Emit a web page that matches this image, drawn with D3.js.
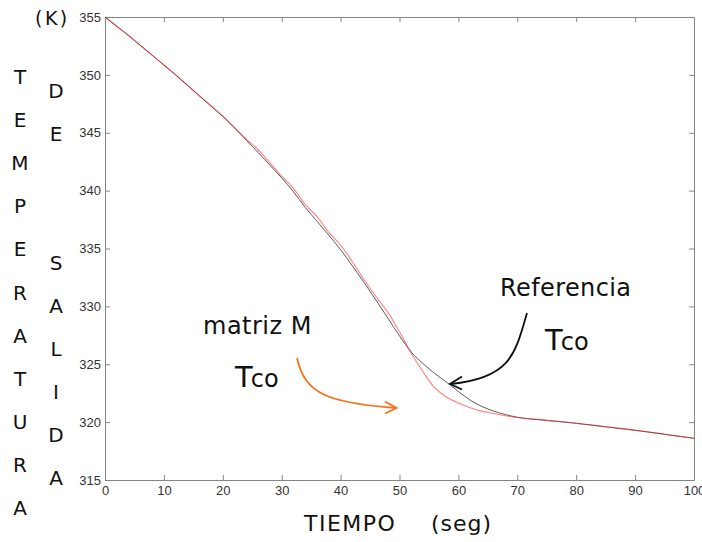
<!DOCTYPE html>
<html>
<head>
<meta charset="utf-8">
<script src="https://cdn.jsdelivr.net/npm/d3@7"></script>
<style>
  body { margin: 0; background: #fff; }
  svg { display: block; }
  .tick text { font-family: "Liberation Sans", Arial, sans-serif; font-size: 13px; fill: #333; }
  .lbl { font-family: "DejaVu Sans", Verdana, sans-serif; fill: #111; }
</style>
</head>
<body>
<div id="chartArea"></div>
<script>
// data
var tiempo = [0, 2, 4, 6, 8, 10, 12, 14, 16, 18, 20, 22, 24, 26, 28, 30, 32, 34, 36, 38, 40,
    42, 44, 46, 48, 50, 52, 54, 56, 58, 60, 62, 64, 66, 68, 70, 75, 80, 85, 90, 95, 100];
var tempReferencia = [355.0, 354.2, 353.4, 352.55, 351.7, 350.85, 350.0, 349.1, 348.2, 347.3, 346.4,
    345.4, 344.35, 343.3, 342.2, 341.1, 339.9, 338.55, 337.35, 336.15, 334.9,
    333.5, 332.05, 330.55, 329.0, 327.45, 326.05, 325.05, 324.2, 323.45, 322.65,
    321.9, 321.35, 320.95, 320.65, 320.42, 320.15, 319.9, 319.6, 319.3, 318.95, 318.6];
var tempMatrizM = [355.0, 354.2, 353.4, 352.55, 351.7, 350.85, 350.0, 349.1, 348.2, 347.35, 346.45,
    345.45, 344.45, 343.55, 342.4, 341.25, 340.2, 338.8, 337.75, 336.4, 335.3,
    333.85, 332.3, 330.85, 329.5, 327.8, 325.95, 324.35, 322.95, 322.15, 321.65,
    321.25, 320.95, 320.75, 320.55, 320.4, 320.15, 319.9, 319.6, 319.3, 318.95, 318.6];
var xTicks = [0, 10, 20, 30, 40, 50, 60, 70, 80, 90, 100];
var yTicks = [315, 320, 325, 330, 335, 340, 345, 350, 355];
var letrasTemp = ["T", "E", "M", "P", "E", "R", "A", "T", "U", "R", "A"];
var letrasSalida = ["D", "E", "", "", "S", "A", "L", "I", "D", "A"];

// layout
const width = 702, height = 542;
const plot = { left: 105, right: 694, top: 17, bottom: 480 };

var svg = d3.select("#chartArea").append("svg")
    .attr("width", width)
    .attr("height", height);

svg.append("rect").attr("width", width).attr("height", height).attr("fill", "#fff");

var xScale = d3.scaleLinear().domain([0, 100]).range([plot.left, plot.right]);
var yScale = d3.scaleLinear().domain([315, 355]).range([plot.bottom, plot.top]);

function styleAxis(g) {
    g.selectAll(".domain").attr("stroke", "#858585");
    g.selectAll(".tick line").attr("stroke", "#858585");
}

// axes (matlab box, ticks inward on every side)
svg.append("g")
    .attr("transform", "translate(0," + plot.bottom + ")")
    .call(d3.axisBottom(xScale).tickValues(xTicks).tickSizeInner(-5).tickSizeOuter(0).tickPadding(6))
    .call(styleAxis);

svg.append("g")
    .attr("transform", "translate(0," + plot.top + ")")
    .call(d3.axisTop(xScale).tickValues(xTicks).tickSizeInner(-5).tickSizeOuter(0).tickFormat(""))
    .call(styleAxis);

svg.append("g")
    .attr("transform", "translate(" + plot.left + ",0)")
    .call(d3.axisLeft(yScale).tickValues(yTicks).tickSizeInner(-5).tickSizeOuter(0).tickPadding(4))
    .call(styleAxis);

svg.append("g")
    .attr("transform", "translate(" + plot.right + ",0)")
    .call(d3.axisRight(yScale).tickValues(yTicks).tickSizeInner(-5).tickSizeOuter(0).tickFormat(""))
    .call(styleAxis);

// curves
var line = d3.line()
    .x(function (d, i) { return xScale(tiempo[i]); })
    .y(function (d) { return yScale(d); })
    .curve(d3.curveMonotoneX);

svg.append("path")
    .attr("d", line(tempReferencia))
    .attr("fill", "none")
    .attr("stroke", "#5c5c5c")
    .attr("stroke-width", 1);

svg.append("path")
    .attr("d", line.curve(d3.curveCatmullRom)(tempMatrizM))
    .attr("fill", "none")
    .attr("stroke", "#ff1a1a")
    .attr("stroke-opacity", 0.55)
    .attr("stroke-width", 1.1);

// y label, written as stacked letters
svg.append("text").attr("class", "lbl")
    .attr("x", 35).attr("y", 25)
    .attr("font-size", 19).attr("letter-spacing", 2.5)
    .text("(K)");

svg.selectAll(".ltemp").data(letrasTemp).enter().append("text")
    .attr("class", "lbl ltemp")
    .attr("x", 20)
    .attr("y", function (d, i) { return 84 + i * 43.1; })
    .attr("text-anchor", "middle")
    .attr("font-size", 20)
    .text(function (d) { return d; });

svg.selectAll(".lsal").data(letrasSalida).enter().append("text")
    .attr("class", "lbl lsal")
    .attr("x", 56)
    .attr("y", function (d, i) { return 98 + i * 43; })
    .attr("text-anchor", "middle")
    .attr("font-size", 20)
    .text(function (d) { return d; });

// x label
svg.append("text").attr("class", "lbl")
    .attr("x", 304).attr("y", 531)
    .attr("font-size", 22).attr("letter-spacing", 1.5)
    .text("TIEMPO");
svg.append("text").attr("class", "lbl")
    .attr("x", 431).attr("y", 531)
    .attr("font-size", 22).attr("letter-spacing", 1)
    .text("(seg)");

// annotations
svg.append("text").attr("class", "lbl")
    .attr("x", 500).attr("y", 296)
    .attr("font-size", 24).attr("letter-spacing", 0.4)
    .text("Referencia");

svg.append("text").attr("class", "lbl")
    .attr("x", 203).attr("y", 334)
    .attr("font-size", 24).attr("letter-spacing", 0.5)
    .text("matriz M");

function tco(x, y) {
    var t = svg.append("text").attr("class", "lbl").attr("x", x).attr("y", y);
    t.append("tspan").attr("font-size", 29).text("T");
    t.append("tspan").attr("font-size", 24).attr("dx", -2).text("co");
}
tco(545, 350);
tco(235, 387);

svg.append("path")
    .attr("d", "M527,313 C515,355 510,378 451,384")
    .attr("fill", "none").attr("stroke", "#111").attr("stroke-width", 1.8);
svg.append("path")
    .attr("d", "M462,376.5 L450,384 L462,389.5")
    .attr("fill", "none").attr("stroke", "#111").attr("stroke-width", 1.8);

svg.append("path")
    .attr("d", "M297,358 C305,395 330,403 396,408")
    .attr("fill", "none").attr("stroke", "#f5731f").attr("stroke-width", 1.8);
svg.append("path")
    .attr("d", "M385,401.5 L396.5,408 L385,413.5")
    .attr("fill", "none").attr("stroke", "#f5731f").attr("stroke-width", 1.8);
</script>
</body>
</html>
